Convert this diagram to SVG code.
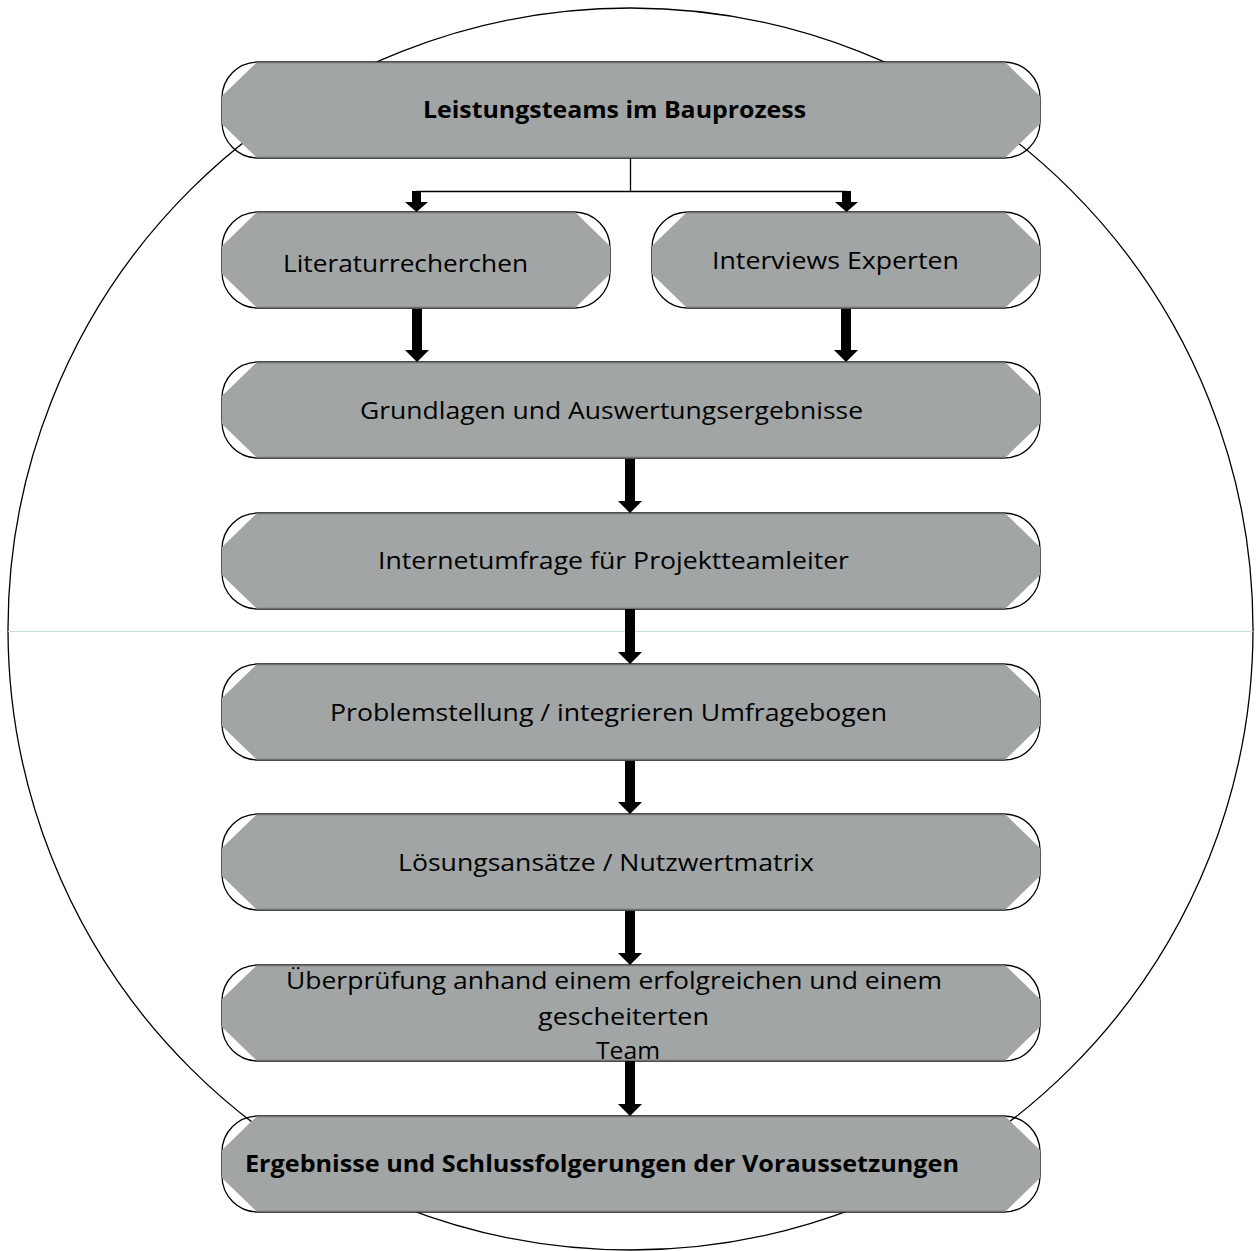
<svg xmlns="http://www.w3.org/2000/svg" width="1258" height="1251" viewBox="0 0 1258 1251">
<style>
.frame{fill:none;stroke:#000;stroke-width:1.3}
.fill{fill:#a2a5a5;stroke:none}
.edge{stroke:#707070;stroke-width:1.5}
.t{font-family:"Open Sans","Liberation Sans",sans-serif;font-size:24px;fill:#000;text-anchor:middle}
.b{font-weight:bold}
.arr{fill:#000}
.ln{stroke:#000;stroke-width:1.3;fill:none}
</style>
<defs>
<symbol id="wide" overflow="visible">
<rect class="frame" x="0" y="0" width="818" height="96" rx="36" ry="36"/>
<polygon class="fill" points="35,0 783,0 818,34 818,62 783,96 35,96 0,62 0,34"/>
<line class="edge" x1="35" y1="0.5" x2="783" y2="0.5"/>
<line class="edge" x1="35" y1="95.5" x2="783" y2="95.5"/>
</symbol>
<symbol id="half" overflow="visible">
<rect class="frame" x="0" y="0" width="388" height="96" rx="36" ry="36"/>
<polygon class="fill" points="35,0 353,0 388,34 388,62 353,96 35,96 0,62 0,34"/>
<line class="edge" x1="35" y1="0.5" x2="353" y2="0.5"/>
<line class="edge" x1="35" y1="95.5" x2="353" y2="95.5"/>
</symbol>
</defs>
<rect width="1258" height="1251" fill="#fff"/>
<ellipse cx="630.5" cy="629" rx="622.5" ry="621" fill="none" stroke="#000" stroke-width="1.3"/>
<line x1="8" y1="631.5" x2="1253" y2="631.5" stroke="#c6e0d0" stroke-width="1.2"/>

<g id="n1"><use href="#wide" x="222" y="62"/><text class="t b" x="614.5" y="118" textLength="383" lengthAdjust="spacingAndGlyphs">Leistungsteams im Bauprozess</text></g>
<g id="n2"><use href="#half" x="222" y="212"/><text class="t" x="405.5" y="272" textLength="245" lengthAdjust="spacingAndGlyphs">Literaturrecherchen</text></g>
<g id="n3"><use href="#half" x="652" y="212"/><text class="t" x="835.5" y="269" textLength="247" lengthAdjust="spacingAndGlyphs">Interviews Experten</text></g>
<g id="n4"><use href="#wide" x="222" y="362"/><text class="t" x="611.5" y="419" textLength="503" lengthAdjust="spacingAndGlyphs">Grundlagen und Auswertungsergebnisse</text></g>
<g id="n5"><use href="#wide" x="222" y="513"/><text class="t" x="613.5" y="569" textLength="471" lengthAdjust="spacingAndGlyphs">Internetumfrage für Projektteamleiter</text></g>
<g id="n6"><use href="#wide" x="222" y="664"/><text class="t" x="608.5" y="721" textLength="557" lengthAdjust="spacingAndGlyphs">Problemstellung / integrieren Umfragebogen</text></g>
<g id="n7"><use href="#wide" x="222" y="814"/><text class="t" x="606" y="871" textLength="416" lengthAdjust="spacingAndGlyphs">Lösungsansätze / Nutzwertmatrix</text></g>
<g id="n8"><use href="#wide" x="222" y="965"/>
<text class="t" x="614" y="989" textLength="656" lengthAdjust="spacingAndGlyphs">Überprüfung anhand einem erfolgreichen und einem</text>
<text class="t" x="623.5" y="1025" textLength="171" lengthAdjust="spacingAndGlyphs">gescheiterten</text>
<text class="t" x="628" y="1059" textLength="64" lengthAdjust="spacingAndGlyphs">Team</text></g>
<g id="n9"><use href="#wide" x="222" y="1116"/><text class="t b" x="602" y="1172" textLength="714" lengthAdjust="spacingAndGlyphs">Ergebnisse und Schlussfolgerungen der Voraussetzungen</text></g>

<g id="connectors">
<path class="ln" d="M630.5,158 V191 M416.5,191.5 H846.5"/>
<path class="arr" d="M412,191 h9 v11 h7 l-11.5,10 l-11.5,-10 h7 z"/>
<path class="arr" d="M842,191 h9 v11 h7 l-11.5,10 l-11.5,-10 h7 z"/>
<path class="arr" d="M412,309 h10 v41 h7 l-12,12 l-12,-12 h7 z"/>
<path class="arr" d="M841,309 h10 v41 h7 l-12,12 l-12,-12 h7 z"/>
<path class="arr" d="M625,459 h10 v42 h7 l-12,12 l-12,-12 h7 z"/>
<path class="arr" d="M625,609 h10 v43 h7 l-12,12 l-12,-12 h7 z"/>
<path class="arr" d="M625,761 h10 v41 h7 l-12,12 l-12,-12 h7 z"/>
<path class="arr" d="M625,911 h10 v42 h7 l-12,12 l-12,-12 h7 z"/>
<path class="arr" d="M625,1061 h10 v43 h7 l-12,12 l-12,-12 h7 z"/>
</g>
</svg>
